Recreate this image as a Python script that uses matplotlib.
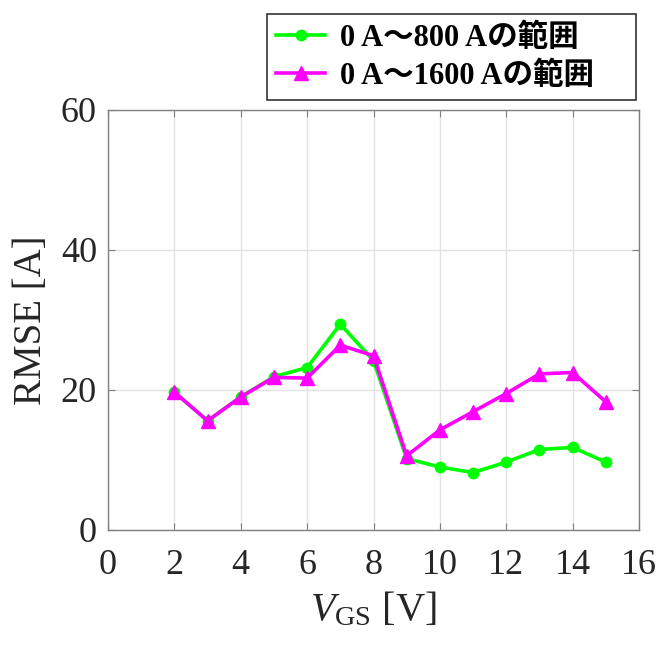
import matplotlib
matplotlib.use("Agg")
import matplotlib.pyplot as plt

# RMSE versus gate-source voltage for two current ranges
vgs = [2, 3, 4, 5, 6, 7, 8, 9, 10, 11, 12, 13, 14, 15]
rmse_800 = [19.7, 15.6, 19.0, 21.9, 23.2, 29.4, 24.2, 10.2, 9.0, 8.2, 9.7, 11.5, 11.8, 9.7]
rmse_1600 = [19.7, 15.6, 19.0, 21.8, 21.7, 26.4, 24.9, 10.6, 14.3, 16.9, 19.5, 22.3, 22.5, 18.3]
label_800 = "0 A〜800 Aの範囲"
label_1600 = "0 A〜1600 Aの範囲"
xticks = [0, 2, 4, 6, 8, 10, 12, 14, 16]
yticks = [0, 20, 40, 60]

plt.rcParams["font.family"] = ["Liberation Serif", "Noto Sans CJK JP"]
plt.rcParams["mathtext.fontset"] = "custom"
plt.rcParams["mathtext.rm"] = "Liberation Serif"
plt.rcParams["mathtext.it"] = "Liberation Serif:italic"

W, H = 662, 648
fig = plt.figure(figsize=(W / 100, H / 100), dpi=100)
ax = fig.add_axes([108 / W, 1 - 530 / H, (639 - 108) / W, (530 - 110) / H])

l1, = ax.plot(vgs, rmse_800, color="#00ff00", lw=2.6, marker="o", ms=7.5,
              label=label_800, zorder=3)
l2, = ax.plot(vgs, rmse_1600, color="#ff00ff", lw=2.6, marker="^", ms=10,
              label=label_1600, zorder=4)

ax.set_xlim(0, 16)
ax.set_ylim(0, 60)
ax.set_xticks(xticks)
ax.set_yticks(yticks)
ax.grid(True, color="#e3e3e3", lw=1.0)
ax.set_axisbelow(True)
for s in ax.spines.values():
    s.set_color("#808080")
    s.set_linewidth(1.0)
ax.tick_params(direction="in", length=5, color="#808080", labelsize=26,
               labelcolor="#262626", top=True, right=True)
ax.tick_params(axis="x", pad=14)
ax.tick_params(axis="y", pad=8)
ax.set_xlabel(r"$V_{\mathrm{GS}}$ [V]", fontsize=29, color="#262626", labelpad=6)
ax.set_ylabel("RMSE [A]", fontsize=28, color="#262626", labelpad=8)

# legend box spanning a fixed region above the axes
leg = fig.legend(handles=[l1, l2], loc="upper left", mode="expand",
                 bbox_to_anchor=(267 / W, 1 - 100 / H, (636 - 267) / W, 86 / H),
                 prop={"family": ["Liberation Serif", "Noto Sans CJK JP"],
                       "weight": "bold", "size": 22},
                 frameon=True, fancybox=False, edgecolor="black",
                 handlelength=1.6, borderpad=0.3, labelspacing=0.3,
                 handletextpad=0.5, borderaxespad=0)
leg.get_frame().set_linewidth(1.2)

fig.savefig("out.png", dpi=100)
